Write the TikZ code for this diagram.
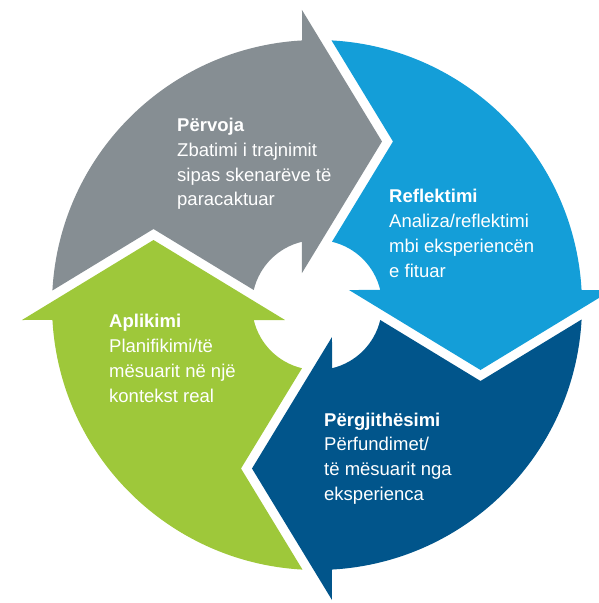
\documentclass[tikz,border=0pt]{standalone}
\usepackage{fontspec}
\setmainfont{Liberation Sans}
\usetikzlibrary{positioning}
\definecolor{stepgrey}{RGB}{134,142,147}
\definecolor{stepblue}{RGB}{20,158,216}
\definecolor{stepnavy}{RGB}{1,85,139}
\definecolor{stepgreen}{RGB}{158,200,58}

\begin{document}
\begin{tikzpicture}[x=1pt,y=1pt,
	cyclabel/.style={anchor=base west, align=left, inner sep=0pt, text=white,
		font=\fontsize{18.5}{24.8}\selectfont}]
	\useasboundingbox (-317,-298) rectangle (282,305);
	\clip (-317,-298) rectangle (282,305);
	% one arrow, turned round the centre four times
	\foreach \ang/\col in {0/stepgrey, -90/stepblue, -180/stepnavy, 90/stepgreen}{
		\fill[\col, rotate=\ang] (176.86:265) arc[start angle=176.86, end angle=93.24, radius=265]
			-- (-15,295) -- (65,163.5) -- (-15,32) -- (103.35:65)
			arc[start angle=103.35, end angle=166.65, radius=65] -- (-163.5,76) -- cycle;
	}
	% anchors sit on the baseline of the last line
	\node[cyclabel] (pervoja) at (-140,99.1) {\textbf{Përvoja}\\Zbatimi i trajnimit\\sipas skenarëve të\\paracaktuar};
	\node[cyclabel] (reflektimi) at (72,27.9) {\textbf{Reflektimi}\\Analiza/reflektimi\\mbi eksperiencën\\e fituar};
	\node[cyclabel] (pergjithesimi) at (7,-195.4) {\textbf{Përgjithësimi}\\Përfundimet/\\të mësuarit nga\\eksperienca};
	\node[cyclabel] (aplikimi) at (-208,-97.1) {\textbf{Aplikimi}\\Planifikimi/të\\mësuarit në një\\kontekst real};
\end{tikzpicture}
\end{document}
